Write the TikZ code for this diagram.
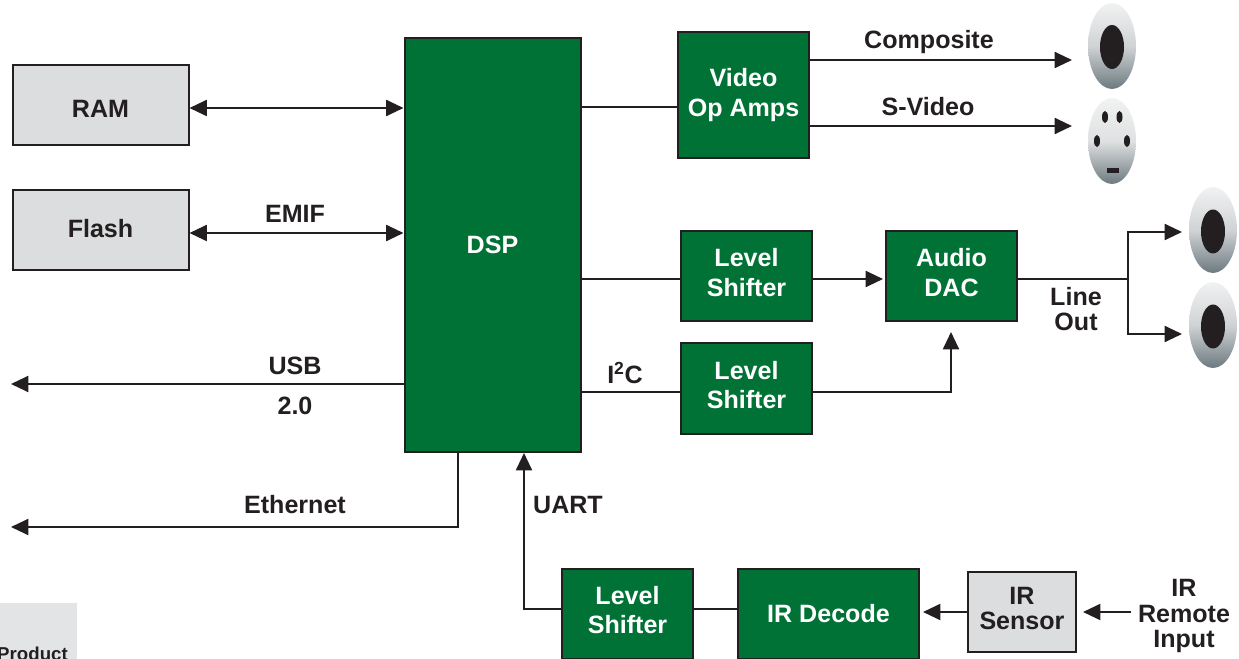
\documentclass[tikz,border=0pt]{standalone}
\usepackage{fontspec}
\setmainfont{Liberation Sans}
\usetikzlibrary{arrows.meta}
\usetikzlibrary{shapes.geometric}
\definecolor{inkblack}{HTML}{231F20}
\definecolor{boxgreen}{HTML}{007236}
\definecolor{boxgrey}{HTML}{DCDDDE}
\definecolor{tabgrey}{HTML}{E3E4E5}
\definecolor{jacktop}{HTML}{F1F2F2}
\definecolor{jackmid}{HTML}{D0D3D5}
\definecolor{jacklite}{HTML}{DFE1E2}
\definecolor{jackbot}{HTML}{6D7A80}
\tikzset{gbox/.style={draw=inkblack,fill=boxgreen,line width=1.5pt,text=white,align=center,inner sep=0pt,
    font=\bfseries\fontsize{18.8}{22}\selectfont}}
\tikzset{dbox/.style={draw=inkblack,fill=boxgrey,line width=1.5pt,text=inkblack,align=center,inner sep=0pt,
    font=\bfseries\fontsize{18.8}{19}\selectfont}}
\tikzset{wire/.style={draw=inkblack,line width=1.5pt}}
\tikzset{awire/.style={wire,-{Triangle[length=13pt,width=12pt]}}}
\tikzset{bwire/.style={wire,{Triangle[length=13pt,width=12pt]}-{Triangle[length=13pt,width=12pt]}}}
\tikzset{sig/.style={text=inkblack,align=center,inner sep=0pt,font=\bfseries\fontsize{18.8}{18.8}\selectfont}}
\tikzset{jack/.style={ellipse,minimum width=36pt,minimum height=64.5pt,inner sep=0pt,top color=jacktop,bottom color=jackbot,middle color=jackmid}}
\tikzset{hole/.style={ellipse,fill=inkblack,minimum width=18pt,minimum height=33pt,inner sep=0pt}}
\tikzset{pin/.style={ellipse,fill=inkblack,minimum width=4.5pt,minimum height=9pt,inner sep=0pt}}

\begin{document}
\begin{tikzpicture}[x=0.75pt,y=-0.75pt]
    \useasboundingbox (0,0) rectangle (1239,659);
    \clip (0,0) rectangle (1239,659);

    % tab in the corner
    \node[fill=tabgrey,minimum width=58pt,minimum height=42pt,inner sep=0pt] (tab) at (38.5,631) {};
    \node[text=inkblack,inner sep=0pt,font=\bfseries\fontsize{14}{15}\selectfont] (product) at (32.5,654) {Product};

    % memories
    \node[dbox,minimum width=132pt,minimum height=60pt,text height=18.7pt] (ram) at (100.5,105.5) {RAM};
    \node[dbox,minimum width=132pt,minimum height=60pt,text depth=3.8pt] (flash) at (100.5,230.5) {Flash};

    % green blocks
    \node[gbox,minimum width=132pt,minimum height=310pt] (dsp) at (492.5,245) {DSP};
    \node[gbox,minimum width=98pt,minimum height=94pt] (vamp) at (743.5,95) {Video\\Op Amps};
    \node[gbox,minimum width=98pt,minimum height=67.5pt,text depth=5.2pt] (lvla) at (746.5,276) {Level\\Shifter};
    \node[gbox,minimum width=98pt,minimum height=67.5pt,text depth=5.2pt] (dac) at (951.5,276) {Audio\\DAC};
    \node[gbox,minimum width=98pt,minimum height=67.5pt,text depth=5.2pt] (lvlb) at (746.5,388.5) {Level\\Shifter};
    \node[gbox,minimum width=98pt,minimum height=67.5pt,text depth=5.2pt] (lvlc) at (627.5,613.5) {Level\\Shifter};
    \node[gbox,minimum width=135.5pt,minimum height=67.5pt] (irdec) at (828.5,613.5) {IR Decode};
    \node[dbox,minimum width=81pt,minimum height=60pt,text depth=4.5pt] (irsen) at (1022,611.5) {IR\\Sensor};

    % jacks
    \node[jack] (comp) at (1112,46) {};
    \node[hole] (comph) at (1112,47) {};
    \node[jack,middle color=jacklite] (svid) at (1112,141) {};
    \node[pin] (pina) at (1105,117) {};
    \node[pin] (pinb) at (1119.5,117) {};
    \node[pin] (pinc) at (1097,141) {};
    \node[pin] (pind) at (1127,141) {};
    \node[fill=inkblack,minimum width=9pt,minimum height=3.6pt,inner sep=0pt] (pine) at (1113,170.5) {};
    \node[jack] (outa) at (1213,230) {};
    \node[hole] (outah) at (1213,231.5) {};
    \node[jack] (outb) at (1213,325) {};
    \node[hole] (outbh) at (1213,326.5) {};

    % free ends
    \coordinate (ramy) at (0,108);
    \coordinate (flashy) at (0,233);
    \coordinate (vidy) at (0,107);
    \coordinate (usbend) at (11,384);
    \coordinate (ethend) at (11,527);
    \coordinate (ethtop) at (458,452);
    \coordinate (compend) at (1072,60);
    \coordinate (svidend) at (1072,126);
    \coordinate (lvlaend) at (883,279);
    \coordinate (split) at (1128,279);
    \coordinate (outaend) at (1182,232);
    \coordinate (outbend) at (1182,334);
    \coordinate (lvlby) at (0,391.5);
    \coordinate (dacend) at (951,332);
    \coordinate (uartend) at (524,453);
    \coordinate (lvlcy) at (0,609);
    \coordinate (irsenend) at (923,612);
    \coordinate (irin) at (1131,612);
    \coordinate (irinend) at (1083,612);

    % connectors
    \draw[bwire] (ram.east |- ramy) -- (dsp.west |- ramy);
    \draw[bwire] (flash.east |- flashy) -- (dsp.west |- flashy);
    \draw[wire] (dsp.east |- vidy) -- (vamp.west |- vidy);
    \draw[awire] (vamp.east |- compend) -- (compend);
    \draw[awire] (vamp.east |- svidend) -- (svidend);
    \draw[wire] (dsp.east |- split) -- (lvla.west |- split);
    \draw[awire] (lvla.east |- split) -- (lvlaend);
    \draw[wire] (dac.east |- split) -- (split);
    \draw[awire] (split) |- (outaend);
    \draw[awire] (split) |- (outbend);
    \draw[wire] (dsp.east |- lvlby) -- (lvlb.west |- lvlby);
    \draw[awire] (lvlb.east |- lvlby) -| (dacend);
    \draw[awire] (dsp.west |- usbend) -- (usbend);
    \draw[awire] (ethtop) |- (ethend);
    \draw[awire] (lvlc.west |- lvlcy) -| (uartend);
    \draw[wire] (lvlc.east |- lvlcy) -- (irdec.west |- lvlcy);
    \draw[awire] (irsen.west |- irin) -- (irsenend);
    \draw[awire] (irin) -- (irinend);

    % labels
    \node[sig] (lemif) at (295,214) {EMIF};
    \node[sig] (lusb) at (295,366) {USB};
    \node[sig] (lusbb) at (295,406) {2.0};
    \node[sig] (leth) at (295,505) {Ethernet};
    \node[sig] (luart) at (568,505) {UART};
    \node[sig] (lcomp) at (929,42) {Composite};
    \node[sig] (lsvid) at (928,107) {S-Video};
    \node[sig] (liic) at (625,373) {I\textsuperscript{2}C};
    \node[sig] (lline) at (1076,309) {Line\\Out};
    \node[sig] (lirin) at (1184,616) {IR\\Remote\\Input};
\end{tikzpicture}
\end{document}
